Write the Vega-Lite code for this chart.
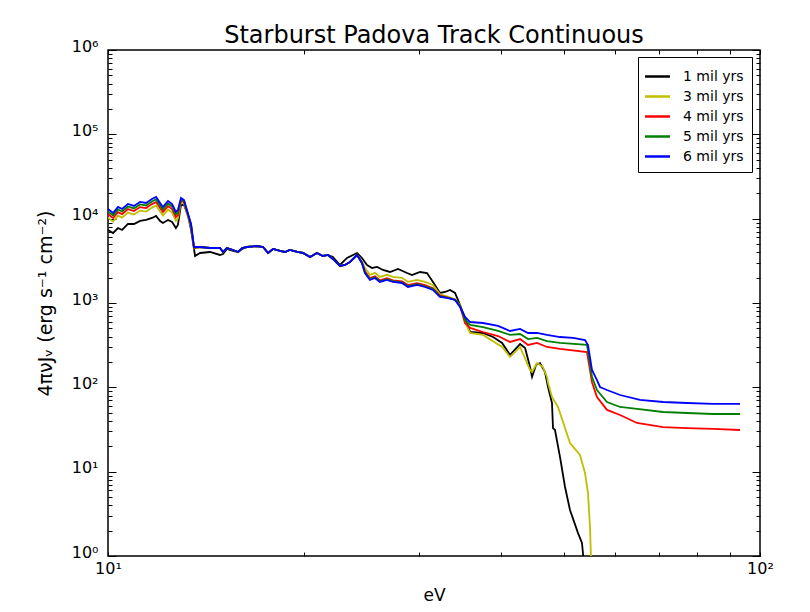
{
"$schema":"https://vega.github.io/schema/vega-lite/v6.json",
"width":652,"height":506,
"autosize":{"type":"none"},
"padding":{"left":108,"top":50,"right":50,"bottom":56},
"background":"white",
"title":{"text":"Starburst Padova Track Continuous","font":"DejaVu Sans","fontSize":24,"fontWeight":"normal","color":"black","anchor":"middle","offset":-10},
"config":{"view":{"stroke":"black","strokeWidth":1.5},"font":"DejaVu Sans"},
"data":{"values":[
{"s":"1 mil yrs","E":10.00,"J":7340},{"s":"1 mil yrs","E":10.18,"J":6760},{"s":"1 mil yrs","E":10.36,"J":7750},{"s":"1 mil yrs","E":10.51,"J":7340},{"s":"1 mil yrs","E":10.73,"J":8650},{"s":"1 mil yrs","E":10.96,"J":8650},{"s":"1 mil yrs","E":11.20,"J":9390},{"s":"1 mil yrs","E":11.44,"J":9650},{"s":"1 mil yrs","E":11.68,"J":10190},{"s":"1 mil yrs","E":11.85,"J":10760},{"s":"1 mil yrs","E":12.02,"J":9390},{"s":"1 mil yrs","E":12.14,"J":8890},{"s":"1 mil yrs","E":12.36,"J":9650},{"s":"1 mil yrs","E":12.54,"J":9130},{"s":"1 mil yrs","E":12.71,"J":7750},{"s":"1 mil yrs","E":12.80,"J":8420},{"s":"1 mil yrs","E":12.94,"J":14530},{"s":"1 mil yrs","E":13.08,"J":14530},{"s":"1 mil yrs","E":13.27,"J":10760},{"s":"1 mil yrs","E":13.41,"J":7340},{"s":"1 mil yrs","E":13.60,"J":3610},{"s":"1 mil yrs","E":13.84,"J":3918},{"s":"1 mil yrs","E":14.34,"J":4027},{"s":"1 mil yrs","E":14.85,"J":3710},{"s":"1 mil yrs","E":15.01,"J":3813},{"s":"1 mil yrs","E":15.22,"J":4370},{"s":"1 mil yrs","E":15.55,"J":4138},{"s":"1 mil yrs","E":15.83,"J":4027},{"s":"1 mil yrs","E":16.06,"J":4370},{"s":"1 mil yrs","E":16.34,"J":4614},{"s":"1 mil yrs","E":16.93,"J":4740},{"s":"1 mil yrs","E":17.29,"J":4614},{"s":"1 mil yrs","E":17.60,"J":3918},{"s":"1 mil yrs","E":17.91,"J":4370},{"s":"1 mil yrs","E":18.36,"J":4138},{"s":"1 mil yrs","E":18.68,"J":4027},{"s":"1 mil yrs","E":19.01,"J":4253},{"s":"1 mil yrs","E":19.50,"J":4027},{"s":"1 mil yrs","E":19.91,"J":3918},{"s":"1 mil yrs","E":20.41,"J":3513},{"s":"1 mil yrs","E":20.92,"J":3918},{"s":"1 mil yrs","E":21.36,"J":3610},{"s":"1 mil yrs","E":21.74,"J":3710},{"s":"1 mil yrs","E":22.13,"J":3513},{"s":"1 mil yrs","E":22.69,"J":2823},{"s":"1 mil yrs","E":23.26,"J":3418},{"s":"1 mil yrs","E":24.10,"J":3918},{"s":"1 mil yrs","E":24.52,"J":3418},{"s":"1 mil yrs","E":24.96,"J":2823},{"s":"1 mil yrs","E":25.41,"J":2602},{"s":"1 mil yrs","E":25.86,"J":2673},{"s":"1 mil yrs","E":26.41,"J":2463},{"s":"1 mil yrs","E":27.07,"J":2332},{"s":"1 mil yrs","E":27.85,"J":2531},{"s":"1 mil yrs","E":28.75,"J":2269},{"s":"1 mil yrs","E":29.26,"J":2149},{"s":"1 mil yrs","E":30.10,"J":2332},{"s":"1 mil yrs","E":30.85,"J":2269},{"s":"1 mil yrs","E":31.51,"J":1775},{"s":"1 mil yrs","E":32.30,"J":1315},{"s":"1 mil yrs","E":32.88,"J":1351},{"s":"1 mil yrs","E":33.46,"J":1427},{"s":"1 mil yrs","E":34.06,"J":1315},{"s":"1 mil yrs","E":34.67,"J":947},{"s":"1 mil yrs","E":35.28,"J":664},{"s":"1 mil yrs","E":35.92,"J":453},{"s":"1 mil yrs","E":37.60,"J":441},{"s":"1 mil yrs","E":38.96,"J":395},{"s":"1 mil yrs","E":40.22,"J":336},{"s":"1 mil yrs","E":41.37,"J":242},{"s":"1 mil yrs","E":42.86,"J":327},{"s":"1 mil yrs","E":43.62,"J":293},{"s":"1 mil yrs","E":44.39,"J":174},{"s":"1 mil yrs","E":44.71,"J":133},{"s":"1 mil yrs","E":45.34,"J":184},{"s":"1 mil yrs","E":45.98,"J":194},{"s":"1 mil yrs","E":46.80,"J":152},{"s":"1 mil yrs","E":47.30,"J":101},{"s":"1 mil yrs","E":47.97,"J":65.2},{"s":"1 mil yrs","E":48.14,"J":32.9},{"s":"1 mil yrs","E":48.48,"J":31.2},{"s":"1 mil yrs","E":49.35,"J":14.9},{"s":"1 mil yrs","E":50.23,"J":6.58},{"s":"1 mil yrs","E":51.12,"J":3.51},{"s":"1 mil yrs","E":52.59,"J":1.87},{"s":"1 mil yrs","E":53.33,"J":1.43},{"s":"1 mil yrs","E":53.90,"J":0.6},
{"s":"3 mil yrs","E":10.00,"J":10290},{"s":"3 mil yrs","E":10.18,"J":9230},{"s":"3 mil yrs","E":10.36,"J":10870},{"s":"3 mil yrs","E":10.51,"J":10290},{"s":"3 mil yrs","E":10.73,"J":11790},{"s":"3 mil yrs","E":10.96,"J":11170},{"s":"3 mil yrs","E":11.20,"J":12460},{"s":"3 mil yrs","E":11.44,"J":12130},{"s":"3 mil yrs","E":11.68,"J":13520},{"s":"3 mil yrs","E":11.85,"J":14280},{"s":"3 mil yrs","E":12.02,"J":12130},{"s":"3 mil yrs","E":12.14,"J":10870},{"s":"3 mil yrs","E":12.36,"J":12810},{"s":"3 mil yrs","E":12.54,"J":11790},{"s":"3 mil yrs","E":12.71,"J":9480},{"s":"3 mil yrs","E":12.80,"J":10020},{"s":"3 mil yrs","E":12.94,"J":15830},{"s":"3 mil yrs","E":13.08,"J":14990},{"s":"3 mil yrs","E":13.27,"J":10450},{"s":"3 mil yrs","E":13.41,"J":8000},{"s":"3 mil yrs","E":13.55,"J":4450},{"s":"3 mil yrs","E":13.84,"J":4614},{"s":"3 mil yrs","E":14.34,"J":4490},{"s":"3 mil yrs","E":14.85,"J":4490},{"s":"3 mil yrs","E":15.01,"J":4027},{"s":"3 mil yrs","E":15.22,"J":4490},{"s":"3 mil yrs","E":15.55,"J":4253},{"s":"3 mil yrs","E":15.83,"J":4027},{"s":"3 mil yrs","E":16.06,"J":4490},{"s":"3 mil yrs","E":16.34,"J":4614},{"s":"3 mil yrs","E":16.93,"J":4740},{"s":"3 mil yrs","E":17.29,"J":4614},{"s":"3 mil yrs","E":17.60,"J":3918},{"s":"3 mil yrs","E":17.91,"J":4370},{"s":"3 mil yrs","E":18.36,"J":4138},{"s":"3 mil yrs","E":18.68,"J":4027},{"s":"3 mil yrs","E":19.01,"J":4253},{"s":"3 mil yrs","E":19.50,"J":4027},{"s":"3 mil yrs","E":19.91,"J":3918},{"s":"3 mil yrs","E":20.41,"J":3513},{"s":"3 mil yrs","E":20.92,"J":3918},{"s":"3 mil yrs","E":21.36,"J":3610},{"s":"3 mil yrs","E":21.74,"J":3710},{"s":"3 mil yrs","E":22.13,"J":3326},{"s":"3 mil yrs","E":22.69,"J":2747},{"s":"3 mil yrs","E":23.09,"J":2823},{"s":"3 mil yrs","E":23.50,"J":3064},{"s":"3 mil yrs","E":24.10,"J":3710},{"s":"3 mil yrs","E":24.52,"J":3100},{"s":"3 mil yrs","E":24.78,"J":2610},{"s":"3 mil yrs","E":25.22,"J":2160},{"s":"3 mil yrs","E":25.67,"J":2280},{"s":"3 mil yrs","E":26.12,"J":2040},{"s":"3 mil yrs","E":26.78,"J":2160},{"s":"3 mil yrs","E":27.35,"J":2040},{"s":"3 mil yrs","E":28.24,"J":1990},{"s":"3 mil yrs","E":28.85,"J":1780},{"s":"3 mil yrs","E":29.78,"J":1880},{"s":"3 mil yrs","E":30.63,"J":1780},{"s":"3 mil yrs","E":31.51,"J":1640},{"s":"3 mil yrs","E":32.30,"J":1270},{"s":"3 mil yrs","E":33.11,"J":1200},{"s":"3 mil yrs","E":34.06,"J":1100},{"s":"3 mil yrs","E":34.67,"J":947},{"s":"3 mil yrs","E":35.28,"J":595},{"s":"3 mil yrs","E":35.92,"J":441},{"s":"3 mil yrs","E":37.60,"J":418},{"s":"3 mil yrs","E":40.22,"J":301},{"s":"3 mil yrs","E":41.37,"J":229},{"s":"3 mil yrs","E":42.86,"J":301},{"s":"3 mil yrs","E":44.39,"J":161},{"s":"3 mil yrs","E":44.71,"J":152},{"s":"3 mil yrs","E":45.50,"J":194},{"s":"3 mil yrs","E":46.47,"J":174},{"s":"3 mil yrs","E":47.13,"J":133},{"s":"3 mil yrs","E":47.30,"J":113},{"s":"3 mil yrs","E":47.97,"J":76.8},{"s":"3 mil yrs","E":49.00,"J":58.5},{"s":"3 mil yrs","E":51.12,"J":21.9},{"s":"3 mil yrs","E":52.96,"J":15.8},{"s":"3 mil yrs","E":53.90,"J":9.64},{"s":"3 mil yrs","E":54.47,"J":5.59},{"s":"3 mil yrs","E":54.86,"J":2.21},{"s":"3 mil yrs","E":55.05,"J":0.97},{"s":"3 mil yrs","E":55.25,"J":0.6},
{"s":"4 mil yrs","E":10.00,"J":11340},{"s":"4 mil yrs","E":10.18,"J":10160},{"s":"4 mil yrs","E":10.36,"J":11970},{"s":"4 mil yrs","E":10.51,"J":11340},{"s":"4 mil yrs","E":10.73,"J":12990},{"s":"4 mil yrs","E":10.96,"J":12300},{"s":"4 mil yrs","E":11.20,"J":13720},{"s":"4 mil yrs","E":11.44,"J":13350},{"s":"4 mil yrs","E":11.68,"J":14890},{"s":"4 mil yrs","E":11.85,"J":15730},{"s":"4 mil yrs","E":12.02,"J":13350},{"s":"4 mil yrs","E":12.14,"J":11970},{"s":"4 mil yrs","E":12.36,"J":14100},{"s":"4 mil yrs","E":12.54,"J":12990},{"s":"4 mil yrs","E":12.71,"J":10440},{"s":"4 mil yrs","E":12.80,"J":11030},{"s":"4 mil yrs","E":12.94,"J":16530},{"s":"4 mil yrs","E":13.08,"J":15660},{"s":"4 mil yrs","E":13.27,"J":10790},{"s":"4 mil yrs","E":13.41,"J":8220},{"s":"4 mil yrs","E":13.55,"J":4500},{"s":"4 mil yrs","E":13.84,"J":4614},{"s":"4 mil yrs","E":14.34,"J":4490},{"s":"4 mil yrs","E":14.85,"J":4490},{"s":"4 mil yrs","E":15.01,"J":4027},{"s":"4 mil yrs","E":15.22,"J":4490},{"s":"4 mil yrs","E":15.55,"J":4253},{"s":"4 mil yrs","E":15.83,"J":4027},{"s":"4 mil yrs","E":16.06,"J":4490},{"s":"4 mil yrs","E":16.34,"J":4614},{"s":"4 mil yrs","E":16.93,"J":4740},{"s":"4 mil yrs","E":17.29,"J":4614},{"s":"4 mil yrs","E":17.60,"J":3918},{"s":"4 mil yrs","E":17.91,"J":4370},{"s":"4 mil yrs","E":18.36,"J":4138},{"s":"4 mil yrs","E":18.68,"J":4027},{"s":"4 mil yrs","E":19.01,"J":4253},{"s":"4 mil yrs","E":19.50,"J":4027},{"s":"4 mil yrs","E":19.91,"J":3918},{"s":"4 mil yrs","E":20.41,"J":3513},{"s":"4 mil yrs","E":20.92,"J":3918},{"s":"4 mil yrs","E":21.36,"J":3610},{"s":"4 mil yrs","E":21.74,"J":3710},{"s":"4 mil yrs","E":22.13,"J":3326},{"s":"4 mil yrs","E":22.69,"J":2747},{"s":"4 mil yrs","E":23.09,"J":2823},{"s":"4 mil yrs","E":23.50,"J":3064},{"s":"4 mil yrs","E":24.10,"J":3710},{"s":"4 mil yrs","E":24.52,"J":2982},{"s":"4 mil yrs","E":24.78,"J":2380},{"s":"4 mil yrs","E":25.22,"J":1970},{"s":"4 mil yrs","E":25.67,"J":2080},{"s":"4 mil yrs","E":26.12,"J":1860},{"s":"4 mil yrs","E":26.78,"J":1970},{"s":"4 mil yrs","E":27.35,"J":1860},{"s":"4 mil yrs","E":28.24,"J":1810},{"s":"4 mil yrs","E":28.85,"J":1630},{"s":"4 mil yrs","E":29.78,"J":1720},{"s":"4 mil yrs","E":30.63,"J":1630},{"s":"4 mil yrs","E":31.51,"J":1500},{"s":"4 mil yrs","E":32.30,"J":1220},{"s":"4 mil yrs","E":33.11,"J":1170},{"s":"4 mil yrs","E":34.06,"J":1100},{"s":"4 mil yrs","E":34.67,"J":922},{"s":"4 mil yrs","E":35.28,"J":579},{"s":"4 mil yrs","E":35.92,"J":506},{"s":"4 mil yrs","E":37.60,"J":453},{"s":"4 mil yrs","E":39.65,"J":406},{"s":"4 mil yrs","E":41.37,"J":345},{"s":"4 mil yrs","E":42.86,"J":374},{"s":"4 mil yrs","E":44.08,"J":318},{"s":"4 mil yrs","E":45.50,"J":336},{"s":"4 mil yrs","E":47.13,"J":301},{"s":"4 mil yrs","E":49.35,"J":285},{"s":"4 mil yrs","E":54.28,"J":262},{"s":"4 mil yrs","E":55.25,"J":115},{"s":"4 mil yrs","E":56.23,"J":76.8},{"s":"4 mil yrs","E":58.25,"J":54},{"s":"4 mil yrs","E":61.01,"J":47.0},{"s":"4 mil yrs","E":64.76,"J":37.8},{"s":"4 mil yrs","E":71.02,"J":33.8},{"s":"4 mil yrs","E":77.29,"J":32.9},{"s":"4 mil yrs","E":84.73,"J":32.1},{"s":"4 mil yrs","E":93.19,"J":31.2},
{"s":"5 mil yrs","E":10.00,"J":12180},{"s":"5 mil yrs","E":10.18,"J":10920},{"s":"5 mil yrs","E":10.36,"J":12870},{"s":"5 mil yrs","E":10.51,"J":12180},{"s":"5 mil yrs","E":10.73,"J":13960},{"s":"5 mil yrs","E":10.96,"J":13220},{"s":"5 mil yrs","E":11.20,"J":14750},{"s":"5 mil yrs","E":11.44,"J":14350},{"s":"5 mil yrs","E":11.68,"J":16010},{"s":"5 mil yrs","E":11.85,"J":16900},{"s":"5 mil yrs","E":12.02,"J":14350},{"s":"5 mil yrs","E":12.14,"J":12870},{"s":"5 mil yrs","E":12.36,"J":15160},{"s":"5 mil yrs","E":12.54,"J":13960},{"s":"5 mil yrs","E":12.71,"J":11220},{"s":"5 mil yrs","E":12.80,"J":11860},{"s":"5 mil yrs","E":12.94,"J":17060},{"s":"5 mil yrs","E":13.08,"J":16160},{"s":"5 mil yrs","E":13.27,"J":11020},{"s":"5 mil yrs","E":13.41,"J":8390},{"s":"5 mil yrs","E":13.55,"J":4550},{"s":"5 mil yrs","E":13.84,"J":4614},{"s":"5 mil yrs","E":14.34,"J":4490},{"s":"5 mil yrs","E":14.85,"J":4490},{"s":"5 mil yrs","E":15.01,"J":4027},{"s":"5 mil yrs","E":15.22,"J":4490},{"s":"5 mil yrs","E":15.55,"J":4253},{"s":"5 mil yrs","E":15.83,"J":4027},{"s":"5 mil yrs","E":16.06,"J":4490},{"s":"5 mil yrs","E":16.34,"J":4614},{"s":"5 mil yrs","E":16.93,"J":4740},{"s":"5 mil yrs","E":17.29,"J":4614},{"s":"5 mil yrs","E":17.60,"J":3918},{"s":"5 mil yrs","E":17.91,"J":4370},{"s":"5 mil yrs","E":18.36,"J":4138},{"s":"5 mil yrs","E":18.68,"J":4027},{"s":"5 mil yrs","E":19.01,"J":4253},{"s":"5 mil yrs","E":19.50,"J":4027},{"s":"5 mil yrs","E":19.91,"J":3918},{"s":"5 mil yrs","E":20.41,"J":3513},{"s":"5 mil yrs","E":20.92,"J":3918},{"s":"5 mil yrs","E":21.36,"J":3610},{"s":"5 mil yrs","E":21.74,"J":3710},{"s":"5 mil yrs","E":22.13,"J":3326},{"s":"5 mil yrs","E":22.69,"J":2747},{"s":"5 mil yrs","E":23.09,"J":2823},{"s":"5 mil yrs","E":23.50,"J":3064},{"s":"5 mil yrs","E":24.10,"J":3710},{"s":"5 mil yrs","E":24.52,"J":2982},{"s":"5 mil yrs","E":24.78,"J":2310},{"s":"5 mil yrs","E":25.22,"J":1910},{"s":"5 mil yrs","E":25.67,"J":2020},{"s":"5 mil yrs","E":26.12,"J":1810},{"s":"5 mil yrs","E":26.78,"J":1910},{"s":"5 mil yrs","E":27.35,"J":1810},{"s":"5 mil yrs","E":28.24,"J":1760},{"s":"5 mil yrs","E":28.85,"J":1580},{"s":"5 mil yrs","E":29.78,"J":1670},{"s":"5 mil yrs","E":30.63,"J":1580},{"s":"5 mil yrs","E":31.51,"J":1460},{"s":"5 mil yrs","E":32.30,"J":1200},{"s":"5 mil yrs","E":33.11,"J":1160},{"s":"5 mil yrs","E":34.06,"J":1095},{"s":"5 mil yrs","E":34.67,"J":930},{"s":"5 mil yrs","E":35.28,"J":629},{"s":"5 mil yrs","E":35.92,"J":549},{"s":"5 mil yrs","E":37.60,"J":519},{"s":"5 mil yrs","E":39.65,"J":466},{"s":"5 mil yrs","E":41.37,"J":418},{"s":"5 mil yrs","E":42.86,"J":429},{"s":"5 mil yrs","E":44.08,"J":374},{"s":"5 mil yrs","E":45.50,"J":385},{"s":"5 mil yrs","E":47.13,"J":354},{"s":"5 mil yrs","E":49.35,"J":336},{"s":"5 mil yrs","E":54.28,"J":318},{"s":"5 mil yrs","E":55.25,"J":133},{"s":"5 mil yrs","E":56.23,"J":93},{"s":"5 mil yrs","E":58.25,"J":67},{"s":"5 mil yrs","E":61.01,"J":58.5},{"s":"5 mil yrs","E":64.76,"J":55.4},{"s":"5 mil yrs","E":71.02,"J":51.0},{"s":"5 mil yrs","E":77.29,"J":49.6},{"s":"5 mil yrs","E":84.73,"J":48.3},{"s":"5 mil yrs","E":93.19,"J":48.3},
{"s":"6 mil yrs","E":10.00,"J":13030},{"s":"6 mil yrs","E":10.18,"J":11680},{"s":"6 mil yrs","E":10.36,"J":13760},{"s":"6 mil yrs","E":10.51,"J":13030},{"s":"6 mil yrs","E":10.73,"J":14930},{"s":"6 mil yrs","E":10.96,"J":14140},{"s":"6 mil yrs","E":11.20,"J":15770},{"s":"6 mil yrs","E":11.44,"J":15350},{"s":"6 mil yrs","E":11.68,"J":17120},{"s":"6 mil yrs","E":11.85,"J":18080},{"s":"6 mil yrs","E":12.02,"J":15350},{"s":"6 mil yrs","E":12.14,"J":13760},{"s":"6 mil yrs","E":12.36,"J":16210},{"s":"6 mil yrs","E":12.54,"J":14930},{"s":"6 mil yrs","E":12.71,"J":12000},{"s":"6 mil yrs","E":12.80,"J":12680},{"s":"6 mil yrs","E":12.94,"J":17590},{"s":"6 mil yrs","E":13.08,"J":16660},{"s":"6 mil yrs","E":13.27,"J":11360},{"s":"6 mil yrs","E":13.41,"J":8650},{"s":"6 mil yrs","E":13.55,"J":4614},{"s":"6 mil yrs","E":13.84,"J":4614},{"s":"6 mil yrs","E":14.34,"J":4490},{"s":"6 mil yrs","E":14.85,"J":4490},{"s":"6 mil yrs","E":15.01,"J":4027},{"s":"6 mil yrs","E":15.22,"J":4490},{"s":"6 mil yrs","E":15.55,"J":4253},{"s":"6 mil yrs","E":15.83,"J":4027},{"s":"6 mil yrs","E":16.06,"J":4490},{"s":"6 mil yrs","E":16.34,"J":4614},{"s":"6 mil yrs","E":16.93,"J":4740},{"s":"6 mil yrs","E":17.29,"J":4614},{"s":"6 mil yrs","E":17.60,"J":3918},{"s":"6 mil yrs","E":17.91,"J":4370},{"s":"6 mil yrs","E":18.36,"J":4138},{"s":"6 mil yrs","E":18.68,"J":4027},{"s":"6 mil yrs","E":19.01,"J":4253},{"s":"6 mil yrs","E":19.50,"J":4027},{"s":"6 mil yrs","E":19.91,"J":3918},{"s":"6 mil yrs","E":20.41,"J":3513},{"s":"6 mil yrs","E":20.92,"J":3918},{"s":"6 mil yrs","E":21.36,"J":3610},{"s":"6 mil yrs","E":21.74,"J":3710},{"s":"6 mil yrs","E":22.13,"J":3326},{"s":"6 mil yrs","E":22.69,"J":2747},{"s":"6 mil yrs","E":23.09,"J":2823},{"s":"6 mil yrs","E":23.50,"J":3064},{"s":"6 mil yrs","E":24.10,"J":3710},{"s":"6 mil yrs","E":24.52,"J":2982},{"s":"6 mil yrs","E":24.78,"J":2269},{"s":"6 mil yrs","E":25.22,"J":1875},{"s":"6 mil yrs","E":25.67,"J":1980},{"s":"6 mil yrs","E":26.12,"J":1775},{"s":"6 mil yrs","E":26.78,"J":1875},{"s":"6 mil yrs","E":27.35,"J":1775},{"s":"6 mil yrs","E":28.24,"J":1727},{"s":"6 mil yrs","E":28.85,"J":1548},{"s":"6 mil yrs","E":29.78,"J":1635},{"s":"6 mil yrs","E":30.63,"J":1548},{"s":"6 mil yrs","E":31.51,"J":1427},{"s":"6 mil yrs","E":32.30,"J":1178},{"s":"6 mil yrs","E":33.11,"J":1147},{"s":"6 mil yrs","E":34.06,"J":1086},{"s":"6 mil yrs","E":34.67,"J":897},{"s":"6 mil yrs","E":35.28,"J":683},{"s":"6 mil yrs","E":35.92,"J":595},{"s":"6 mil yrs","E":37.60,"J":579},{"s":"6 mil yrs","E":39.65,"J":534},{"s":"6 mil yrs","E":41.37,"J":466},{"s":"6 mil yrs","E":42.86,"J":492},{"s":"6 mil yrs","E":44.08,"J":441},{"s":"6 mil yrs","E":45.50,"J":441},{"s":"6 mil yrs","E":47.13,"J":418},{"s":"6 mil yrs","E":49.35,"J":395},{"s":"6 mil yrs","E":51.67,"J":385},{"s":"6 mil yrs","E":53.90,"J":364},{"s":"6 mil yrs","E":54.47,"J":318},{"s":"6 mil yrs","E":55.25,"J":161},{"s":"6 mil yrs","E":56.23,"J":122},{"s":"6 mil yrs","E":56.83,"J":101},{"s":"6 mil yrs","E":58.25,"J":93},{"s":"6 mil yrs","E":61.01,"J":81.1},{"s":"6 mil yrs","E":65.45,"J":70.8},{"s":"6 mil yrs","E":71.02,"J":67.0},{"s":"6 mil yrs","E":77.29,"J":65.2},{"s":"6 mil yrs","E":84.73,"J":63.5},{"s":"6 mil yrs","E":93.19,"J":63.5}
]},
"resolve":{"axis":{"x":"independent","y":"independent"}},
"layer":[
{"mark":{"type":"line","strokeWidth":1.8,"clip":true},
 "encoding":{
  "x":{"field":"E","type":"quantitative","scale":{"type":"log","domain":[10,100],"nice":false},
   "axis":{"orient":"bottom","values":[10,20,30,40,50,60,70,80,90,100],"labelExpr":"datum.value==10?'10¹':datum.value==100?'10²':''","tickSize":-4,"tickColor":"black","domain":false,"grid":false,"labelFontSize":16,"labelColor":"black","labelPadding":8,"labelFlush":false,"labelOverlap":false,"title":"eV","titleFontSize":17,"titleFontWeight":"normal","titleColor":"black","titlePadding":11}},
  "y":{"field":"J","type":"quantitative","scale":{"type":"log","domain":[1,1000000],"nice":false},
   "axis":{"orient":"left","values":[1,2,3,4,5,6,7,8,9,10,20,30,40,50,60,70,80,90,100,200,300,400,500,600,700,800,900,1000,2000,3000,4000,5000,6000,7000,8000,9000,10000,20000,30000,40000,50000,60000,70000,80000,90000,100000,200000,300000,400000,500000,600000,700000,800000,900000,1000000],
    "labelExpr":"datum.value==1?'10⁰':datum.value==10?'10¹':datum.value==100?'10²':datum.value==1000?'10³':datum.value==10000?'10⁴':datum.value==100000?'10⁵':datum.value==1000000?'10⁶':''",
    "tickSize":{"condition":{"test":"indexof([1,10,100,1000,10000,100000,1000000], datum.value) >= 0","value":-8},"value":-4},
    "tickColor":"black","domain":false,"grid":false,"labelFontSize":16,"labelColor":"black","labelPadding":18,"labelOffset":-4,"labelFlush":false,"labelOverlap":false,
    "title":"4πνJᵥ (erg s⁻¹ cm⁻²)","titleFontSize":19,"titleFontWeight":"normal","titleColor":"black","titlePadding":16}},
  "color":{"field":"s","type":"nominal","scale":{"domain":["1 mil yrs","3 mil yrs","4 mil yrs","5 mil yrs","6 mil yrs"],"range":["#000000","#bfbf00","#ff0000","#008000","#0000ff"]},
   "legend":{"title":null,"orient":"none","legendX":530,"legendY":7,"strokeColor":"black","fillColor":"white","padding":8,"symbolType":"M-1.25,0H1.25","symbolStrokeWidth":2.5,"symbolSize":400,"labelFontSize":14,"labelColor":"black","labelOffset":14,"rowPadding":1}}
 }},
{"mark":{"type":"line","strokeOpacity":0},
 "encoding":{
  "x":{"field":"E","type":"quantitative","axis":{"orient":"top","values":[10,20,30,40,50,60,70,80,90,100],"labels":false,"tickSize":-4,"tickColor":"black","domain":false,"grid":false,"title":null}},
  "y":{"field":"J","type":"quantitative","axis":{"orient":"right","values":[1,2,3,4,5,6,7,8,9,10,20,30,40,50,60,70,80,90,100,200,300,400,500,600,700,800,900,1000,2000,3000,4000,5000,6000,7000,8000,9000,10000,20000,30000,40000,50000,60000,70000,80000,90000,100000,200000,300000,400000,500000,600000,700000,800000,900000,1000000],"labels":false,"tickSize":{"condition":{"test":"indexof([1,10,100,1000,10000,100000,1000000], datum.value) >= 0","value":-8},"value":-4},"tickColor":"black","domain":false,"grid":false,"title":null}},
  "detail":{"field":"s","type":"nominal"}
 }}
]
}
